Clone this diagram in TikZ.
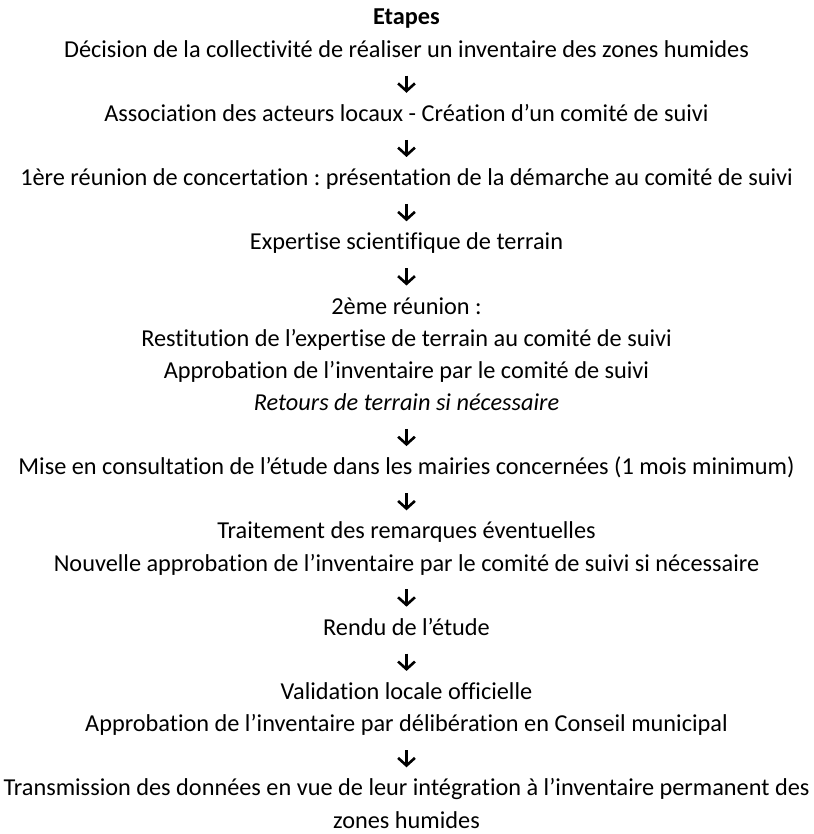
\documentclass[tikz,border=0pt]{standalone}
\usepackage{fontspec}
\setmainfont{Carlito}[Ligatures=NoCommon]
\frenchspacing
\usetikzlibrary{arrows.meta}
\begin{document}
\begin{tikzpicture}[x=1pt, y=-16.06pt,
    ligne/.style={anchor=base, inner sep=0pt, text height=9pt, text depth=3pt, font=\fontsize{12.15}{14}\selectfont},
    fleche/.style={line width=1.3pt, -{Straight Barb[length=3.8pt,width=8.4pt]}, shorten <=6pt, shorten >=5.1pt}]
    \useasboundingbox (-203.25pt,12.5pt) rectangle (203.25pt,-404.5pt);
    \node[ligne] (etapes) at (0,0) {\textbf{Etapes}};
    \node[ligne] (decision) at (0,1) {Décision de la collectivité de réaliser un inventaire des zones humides};
    \node[ligne] (acteurs) at (0,3) {Association des acteurs locaux - Création d’un comité de suivi};
    \node[ligne] (reunionA) at (0,5) {1ère réunion de concertation : présentation de la démarche au comité de suivi};
    \node[ligne] (expertise) at (0,7) {Expertise scientifique de terrain};
    \node[ligne] (reunionB) at (0,9) {2ème réunion :};
    \node[ligne] (restitution) at (0,10) {Restitution de l’expertise de terrain au comité de suivi};
    \node[ligne] (approbA) at (0,11) {Approbation de l’inventaire par le comité de suivi};
    \node[ligne] (retours) at (0,12) {\textit{Retours de terrain si nécessaire}};
    \node[ligne] (consult) at (0,14) {Mise en consultation de l’étude dans les mairies concernées (1 mois minimum)};
    \node[ligne] (remarques) at (0,16) {Traitement des remarques éventuelles};
    \node[ligne] (approbB) at (0,17) {Nouvelle approbation de l’inventaire par le comité de suivi si nécessaire};
    \node[ligne] (rendu) at (0,19) {Rendu de l’étude};
    \node[ligne] (validation) at (0,21) {Validation locale officielle};
    \node[ligne] (approbC) at (0,22) {Approbation de l’inventaire par délibération en Conseil municipal};
    \node[ligne] (transmis) at (0,24) {Transmission des données en vue de leur intégration à l’inventaire permanent des};
    \node[ligne] (zones) at (0,25) {zones humides};
    \draw[fleche] (decision.south) -- (acteurs.north);
    \draw[fleche] (acteurs.south) -- (reunionA.north);
    \draw[fleche] (reunionA.south) -- (expertise.north);
    \draw[fleche] (expertise.south) -- (reunionB.north);
    \draw[fleche] (retours.south) -- (consult.north);
    \draw[fleche] (consult.south) -- (remarques.north);
    \draw[fleche] (approbB.south) -- (rendu.north);
    \draw[fleche] (rendu.south) -- (validation.north);
    \draw[fleche] (approbC.south) -- (transmis.north);
\end{tikzpicture}
\end{document}
